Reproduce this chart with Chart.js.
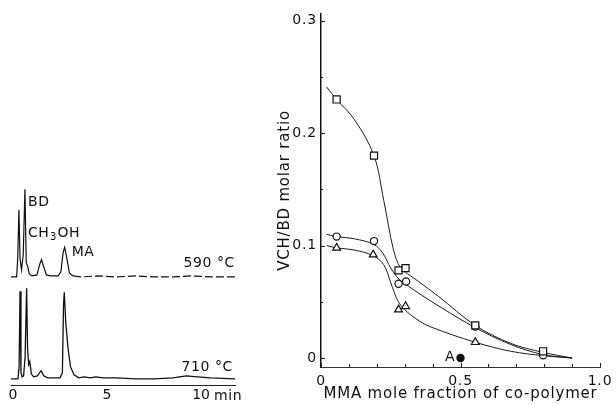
<!DOCTYPE html>
<html>
<head>
<meta charset="utf-8">
<script src="https://cdn.jsdelivr.net/npm/chart.js@4/dist/chart.umd.min.js"></script>
<style>
  html, body { margin: 0; padding: 0; background: #ffffff; }
  #wrap { position: relative; width: 616px; height: 404px; }
  canvas { position: absolute; left: 0; top: 0; }
</style>
</head>
<body>
<div id="wrap">
  <canvas id="chrom" width="616" height="404"></canvas>
  <canvas id="ratio" width="616" height="404"></canvas>
</div>
<script>
// ---------------- Left panel: pyrolysis chromatograms ----------------
// retention time (min) and detector signal above each trace's own baseline (arbitrary units)
const trace590Time   = [-0.1, 0.2, 0.26, 0.32, 0.38, 0.46, 0.55, 0.64, 0.71, 0.79, 0.87, 1.0, 1.28, 1.42, 1.52, 1.62, 1.78, 2.0, 2.4, 2.55, 2.67, 2.75, 2.85, 3.0, 3.2, 3.6, 4.5, 5.5, 6.5, 7.5, 8.5, 9.5, 10.5, 11.8];
const trace590Signal = [0, 0, 20, 66, 18, 7, 22, 86, 14, 10, 3, 1, 2, 12, 17, 11, 2, 1, 1, 5, 24, 29, 20, 4, 1, 0, 1, 0, 1, 0, 0, 1, 0, 0];
const trace710Time   = [-0.1, 0.27, 0.33, 0.38, 0.43, 0.49, 0.57, 0.65, 0.73, 0.78, 0.84, 0.9, 0.98, 1.1, 1.3, 1.5, 1.64, 1.85, 2.5, 2.63, 2.69, 2.73, 2.81, 2.93, 3.06, 3.25, 3.5, 3.8, 4.1, 4.4, 4.8, 5.5, 6.5, 7.5, 8.5, 9.2, 9.8, 10.5, 11.8];
const trace710Signal = [0, 0, 12, 86, 6, 2, 3, 22, 89, 30, 14, 17, 5, 2, 3, 8, 3, 1, 1, 6, 72, 85, 55, 30, 12, 4, 1, 2, 1, 2, 1, 1, 0, 0, 1, 3, 2, 1, 0];
const chromTickValues = [0, 5, 10];
const chromTickLabels = ['0', '5', '10'];
const chromTimeUnit = 'min';
const peakNames = ['BD', 'CH3OH', 'MA'];
const peakTimes = [0.64, 0.64, 2.75];
const traceTemps = ['590 °C', '710 °C'];

// ---------------- Right panel: VCH/BD ratio vs MMA fraction ----------------
const squareX   = [0.056, 0.19, 0.278, 0.303, 0.553, 0.796];
const squareY   = [0.230, 0.180, 0.078, 0.080, 0.029, 0.006];
const circleX   = [0.056, 0.19, 0.278, 0.305, 0.553, 0.796];
const circleY   = [0.108, 0.104, 0.066, 0.068, 0.028, 0.0025];
const triangleX = [0.056, 0.187, 0.278, 0.303, 0.553];
const triangleY = [0.098, 0.092, 0.043, 0.046, 0.014];
const pointAX   = [0.5];
const pointAY   = [0.0];
const pointALabel = 'A';
// smooth curves drawn through the data
const squareCurveX   = [0.02, 0.056, 0.12, 0.19, 0.225, 0.26, 0.285, 0.31, 0.35, 0.42, 0.553, 0.68, 0.796, 0.9];
const squareCurveY   = [0.241, 0.230, 0.212, 0.180, 0.140, 0.096, 0.080, 0.075, 0.068, 0.055, 0.029, 0.013, 0.005, 0.0];
const circleCurveX   = [0.02, 0.056, 0.12, 0.19, 0.222, 0.25, 0.28, 0.313, 0.36, 0.43, 0.553, 0.68, 0.796, 0.9];
const circleCurveY   = [0.110, 0.108, 0.106, 0.101, 0.093, 0.080, 0.070, 0.064, 0.056, 0.045, 0.027, 0.012, 0.003, 0.0];
const triangleCurveX = [0.02, 0.056, 0.12, 0.187, 0.225, 0.25, 0.275, 0.3, 0.34, 0.39, 0.553, 0.68, 0.8, 0.9];
const triangleCurveY = [0.100, 0.098, 0.096, 0.091, 0.083, 0.067, 0.051, 0.043, 0.035, 0.028, 0.014, 0.006, 0.002, 0.0];
const xTickValues = [0, 0.1, 0.2, 0.3, 0.4, 0.5, 0.6, 0.7, 0.8, 0.9, 1.0];
const xTickLabels = ['0', '', '', '', '', '0.5', '', '', '', '', '1.0'];
const yTickValues = [0, 0.05, 0.1, 0.15, 0.2, 0.25, 0.3];
const yTickLabels = ['0', '', '0.1', '', '0.2', '', '0.3'];
const xTitle = 'MMA mole fraction of co-polymer';
const yTitle = 'VCH/BD molar ratio';

// ---------------- helpers ----------------
const INK = '#111111';
const FONT = '"DejaVu Sans", "Liberation Sans", sans-serif';
const OFFSET_590 = 100;   // vertical offset that stacks the 590 °C trace above the 710 °C one
const zip = (xs, ys, dy) => xs.map((x, i) => ({ x: x, y: ys[i] + (dy || 0) }));

// ---------------- left chart ----------------
const chromLabels = {
  id: 'chromLabels',
  afterDraw(chart) {
    const { ctx, scales: { x, y }, chartArea } = chart;
    ctx.save();
    ctx.fillStyle = INK;
    ctx.textBaseline = 'middle';
    ctx.letterSpacing = '0.6px';
    // BD
    const bdPx = x.getPixelForValue(peakTimes[0]);
    const bdTop = y.getPixelForValue(Math.max(...trace590Signal) + OFFSET_590);
    ctx.font = '14px ' + FONT;
    ctx.textAlign = 'left';
    ctx.fillText(peakNames[0], bdPx + 3, bdTop + 13);
    // CH3OH with subscript 3
    let cx = bdPx + 3;
    const cy = bdTop + 44;
    const name = peakNames[1];
    const parts = [name.slice(0, 2), name.slice(2, 3), name.slice(3)];
    ctx.font = '14px ' + FONT;
    ctx.fillText(parts[0], cx, cy); cx += ctx.measureText(parts[0]).width;
    ctx.font = '10px ' + FONT;
    ctx.fillText(parts[1], cx + 0.5, cy + 4); cx += ctx.measureText(parts[1]).width + 1;
    ctx.font = '14px ' + FONT;
    ctx.fillText(parts[2], cx, cy);
    // MA
    const maPx = x.getPixelForValue(peakTimes[2]);
    const maTop = y.getPixelForValue(29 + OFFSET_590);
    ctx.font = '14px ' + FONT;
    ctx.fillText(peakNames[2], maPx + 7, maTop + 5);
    // temperatures
    ctx.font = '14px ' + FONT;
    ctx.textAlign = 'right';
    ctx.fillText(traceTemps[0], chartArea.right, y.getPixelForValue(OFFSET_590) - 14);
    ctx.fillText(traceTemps[1], chartArea.right - 2, y.getPixelForValue(0) - 12);
    // time unit after last tick label
    ctx.textAlign = 'left';
    ctx.fillText(chromTimeUnit, x.getPixelForValue(chromTickValues[2]) + 13, chartArea.bottom + 11);
    ctx.restore();
  }
};

new Chart(document.getElementById('chrom'), {
  type: 'line',
  data: {
    datasets: [
      {
        data: zip(trace590Time, trace590Signal, OFFSET_590),
        borderColor: INK, borderWidth: 1.2, pointRadius: 0, tension: 0,
        segment: { borderDash: c => (c.p0.parsed.x >= 3.2 ? [8, 3] : undefined) }
      },
      {
        data: zip(trace710Time, trace710Signal, 0),
        borderColor: INK, borderWidth: 1.3, pointRadius: 0, tension: 0
      }
    ]
  },
  options: {
    responsive: false, animation: false, events: [],
    layout: { padding: { left: 11, right: 381, top: 175, bottom: 0 } },
    plugins: { legend: { display: false }, tooltip: { enabled: false } },
    scales: {
      x: {
        type: 'linear', min: -0.1, max: 11.8,
        afterBuildTicks: s => { s.ticks = chromTickValues.map(v => ({ value: v })); },
        afterFit: s => { s.height = 19; s.paddingLeft = 0; s.paddingRight = 0; },
        ticks: { callback: (v, i) => chromTickLabels[i], autoSkip: false, maxRotation: 0, padding: 2,
                 font: { family: FONT, size: 14 }, color: INK },
        grid: { display: false, drawTicks: false },
        border: { color: '#222', width: 1 }
      },
      y: { display: false, min: -6, max: 200 }
    }
  },
  plugins: [chromLabels]
});

// ---------------- right chart ----------------
const spacing = {
  id: 'spacing',
  beforeLayout(c) { c.ctx.letterSpacing = '0.8px'; },
  beforeDraw(c) { c.ctx.letterSpacing = '0.8px'; }
};
const inwardTicks = {
  id: 'inwardTicks',
  afterDraw(chart) {
    const { ctx, scales: { x, y }, chartArea } = chart;
    ctx.save();
    ctx.strokeStyle = '#222';
    ctx.lineWidth = 1;
    ctx.beginPath();
    xTickValues.forEach((v, i) => {
      const px = Math.round(x.getPixelForValue(v)) + 0.5;
      const len = xTickLabels[i] ? 4 : 3;
      ctx.moveTo(px, chartArea.bottom); ctx.lineTo(px, chartArea.bottom - len);
    });
    yTickValues.forEach((v, i) => {
      const py = Math.round(y.getPixelForValue(v)) + 0.5;
      const len = yTickLabels[i] ? 4 : 2;
      ctx.moveTo(chartArea.left, py); ctx.lineTo(chartArea.left + len, py);
    });
    ctx.stroke();
    // label of the filled point
    ctx.fillStyle = INK;
    ctx.font = '14px ' + FONT;
    ctx.textAlign = 'right';
    ctx.textBaseline = 'middle';
    ctx.fillText(pointALabel, x.getPixelForValue(pointAX[0]) - 5, y.getPixelForValue(pointAY[0]) - 1);
    ctx.restore();
  }
};

const markerBase = { showLine: false, borderColor: INK, backgroundColor: '#ffffff', borderWidth: 1.2 };
const curveBase = { borderColor: '#1a1a1a', borderWidth: 1, pointRadius: 0, tension: 0.35, fill: false };

new Chart(document.getElementById('ratio'), {
  type: 'line',
  data: {
    datasets: [
      Object.assign({ data: zip(pointAX, pointAY), pointStyle: 'circle', pointRadius: 3.6 }, markerBase, { backgroundColor: INK }),
      Object.assign({ data: zip(squareX, squareY), pointStyle: 'rect', pointRadius: 5 }, markerBase),
      Object.assign({ data: zip(circleX, circleY), pointStyle: 'circle', pointRadius: 3.6 }, markerBase),
      Object.assign({ data: zip(triangleX, triangleY), pointStyle: 'triangle', pointRadius: 4.5 }, markerBase),
      Object.assign({ data: zip(squareCurveX, squareCurveY) }, curveBase),
      Object.assign({ data: zip(circleCurveX, circleCurveY) }, curveBase),
      Object.assign({ data: zip(triangleCurveX, triangleCurveY) }, curveBase)
    ]
  },
  options: {
    responsive: false, animation: false, events: [],
    layout: { padding: { left: 276, right: 16, top: 14, bottom: 1 } },
    plugins: { legend: { display: false }, tooltip: { enabled: false } },
    scales: {
      x: {
        type: 'linear', min: 0, max: 1.0,
        afterBuildTicks: s => { s.ticks = xTickValues.map(v => ({ value: v })); },
        afterFit: s => { s.height = 36; s.paddingLeft = 0; s.paddingRight = 0; },
        ticks: { callback: (v, i) => xTickLabels[i], autoSkip: false, maxRotation: 0, padding: 6,
                 font: { family: FONT, size: 14 }, color: INK },
        grid: { display: false, drawTicks: false },
        border: { color: '#333', width: 1 },
        title: { display: true, text: xTitle, color: INK, padding: 0, font: { family: FONT, size: 15 } }
      },
      y: {
        type: 'linear', min: -0.008, max: 0.306,
        afterBuildTicks: s => { s.ticks = yTickValues.map(v => ({ value: v })); },
        afterFit: s => { s.width = 45; s.paddingTop = 0; s.paddingBottom = 0; },
        ticks: { callback: (v, i) => yTickLabels[i], autoSkip: false, padding: 4,
                 font: { family: FONT, size: 14 }, color: INK },
        grid: { display: false, drawTicks: false },
        border: { color: '#111', width: 1.5 },
        title: { display: true, text: yTitle, color: INK, padding: 0, font: { family: FONT, size: 15 } }
      }
    }
  },
  plugins: [spacing, inwardTicks]
});
</script>
</body>
</html>
